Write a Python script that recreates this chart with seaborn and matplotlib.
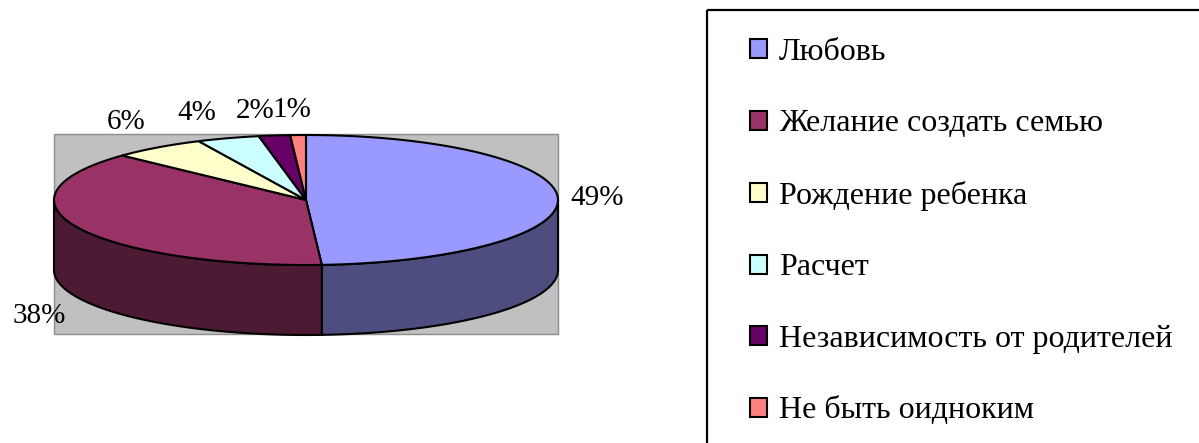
import numpy as np
import matplotlib.pyplot as plt
import matplotlib.colors as mcolors
from matplotlib.patches import Polygon, Rectangle, Patch
import seaborn as sns

# данные диаграммы
labels = ['Любовь', 'Желание создать семью', 'Рождение ребенка', 'Расчет',
          'Независимость от родителей', 'Не быть оидноким']
shares = [49, 38, 6, 4, 2, 1]
top_colors = ['#9999FF', '#993366', '#FFFFCC', '#CCFFFF', '#660066', '#FF8080']

sns.set_style('white')
plt.rcParams['font.family'] = ['Liberation Serif', 'DejaVu Serif']
plt.rcParams['text.color'] = 'black'

W, H = 1199, 443
fig = plt.figure(figsize=(W / 100, H / 100), dpi=100)
ax = fig.add_axes([0, 0, 1, 1])
ax.set_xlim(0, W)
ax.set_ylim(H, 0)
ax.axis('off')

# геометрия "3D" круга в пикселях
cx, cy, rx, ry, depth = 306, 200, 252, 65, 70
ax.add_patch(Rectangle((54, 134), 504, 200, facecolor='#C0C0C0',
                       edgecolor='#8C8C8C', lw=1, zorder=0))


def shade(c, f=0.5):
    r, g, b = mcolors.to_rgb(c)
    return (r * f, g * f, b * f)


def arc(a0, a1, dz=0, n=120):
    t = np.radians(np.linspace(a0, a1, n))
    return np.column_stack([cx + rx * np.cos(t), cy - ry * np.sin(t) + dz])


frac = np.array(shares) / sum(shares)
bounds = 90 - 360 * np.concatenate([[0], np.cumsum(frac)])

# боковые стенки (видимая передняя часть)
for i, (a0, a1) in enumerate(zip(bounds[:-1], bounds[1:])):
    hi, lo = min(a0, 0), max(a1, -180)
    if hi > lo:
        pts = np.vstack([arc(hi, lo), arc(lo, hi, depth)])
        ax.add_patch(Polygon(pts, closed=True, facecolor=shade(top_colors[i]),
                             edgecolor='black', lw=1.5, zorder=2))

# верхняя грань
for i, (a0, a1) in enumerate(zip(bounds[:-1], bounds[1:])):
    pts = np.vstack([[[cx, cy]], arc(a0, a1)])
    ax.add_patch(Polygon(pts, closed=True, facecolor=top_colors[i],
                         edgecolor='black', lw=1.5, zorder=3))

# подписи процентов
for i, (a0, a1) in enumerate(zip(bounds[:-1], bounds[1:])):
    m = np.radians((a0 + a1) / 2)
    c, s = np.cos(m), np.sin(m)
    x, y = cx + rx * c, cy - ry * s
    if s < -0.3:
        y += depth
    ha = 'left' if c > 0.3 else ('right' if c < -0.1 else 'center')
    va = 'bottom' if s > 0.3 else ('top' if s < -0.3 else 'center')
    if abs(c) > 0.2:
        x += 12 * np.sign(c)
    elif ha == 'center':
        x -= 6
    y += -12 if va == 'bottom' else (5 if va == 'top' else 0)
    ax.text(x, y, f'{shares[i]}%', ha=ha, va=va, fontsize=21, color='black', zorder=5)

# легенда
ax.add_patch(Rectangle((707, 10), 700, 600, fill=False, edgecolor='black', lw=1.6))
handles = [Patch(facecolor=c, edgecolor='black', lw=1.5) for c in top_colors]
fig.legend(handles, labels, loc='upper left', bbox_to_anchor=(750 / W, 1 - 38 / H),
           frameon=False, fontsize=23, handlelength=0.53, handleheight=0.53,
           handletextpad=0.38, labelspacing=1.33, borderpad=0, borderaxespad=0,
           labelcolor='black')

fig.savefig('out.png', dpi=100)
